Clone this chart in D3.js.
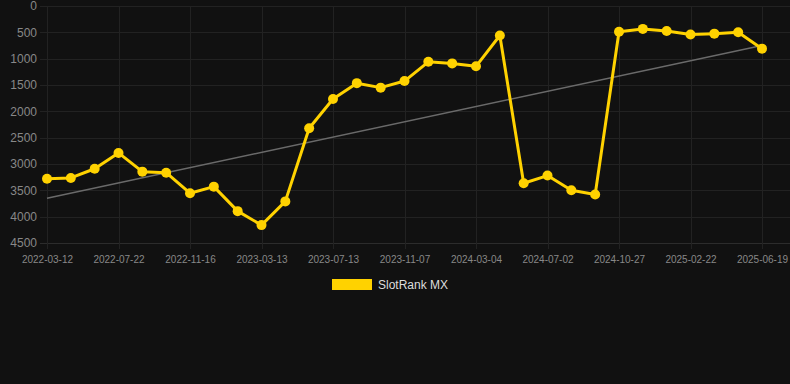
<!DOCTYPE html>
<html>
<head>
<meta charset="utf-8">
<script src="https://cdn.jsdelivr.net/npm/d3@7"></script>
<style>
  body { margin: 0; background: #111111; }
  svg { display: block; font-family: "Liberation Sans", Arial, sans-serif; }
</style>
</head>
<body>
<div id="chart"></div>
<script>
// chart data
var rankValues = [3280, 3265, 3090, 2790, 3145, 3165, 3555, 3430, 3895, 4160,
  3710, 2320, 1765, 1465, 1550, 1425, 1060, 1090, 1145, 560,
  3365, 3220, 3500, 3580, 490, 435, 475, 540, 525, 500, 810];
var tickLabels = ["2022-03-12", "2022-07-22", "2022-11-16", "2023-03-13", "2023-07-13",
  "2023-11-07", "2024-03-04", "2024-07-02", "2024-10-27", "2025-02-22", "2025-06-19"];
var trendValues = [3650, 750]; // trend line start/end
var yTicks = [0, 500, 1000, 1500, 2000, 2500, 3000, 3500, 4000, 4500];
var seriesName = "SlotRank MX";

var svgWidth = 790;
var svgHeight = 384;

var svg = d3.select("#chart")
  .append("svg")
  .attr("width", svgWidth)
  .attr("height", svgHeight);

svg.append("rect")
  .attr("width", svgWidth)
  .attr("height", svgHeight)
  .attr("fill", "#111111");

var xScale = d3.scaleLinear()
  .domain([0, rankValues.length - 1])
  .range([47, 762]);

// rank axis is reversed: 0 at top
var yScale = d3.scaleLinear()
  .domain([0, 4500])
  .range([6, 243]);

var tickIdx = tickLabels.map((d, i) => i * 3);

// horizontal grid
svg.append("g")
  .selectAll("line")
  .data(yTicks)
  .enter()
  .append("line")
  .attr("x1", 40)
  .attr("x2", svgWidth)
  .attr("y1", d => Math.round(yScale(d)) + 0.5)
  .attr("y2", d => Math.round(yScale(d)) + 0.5)
  .attr("stroke", d => d === 4500 ? "#2c2c2c" : "#222222")
  .attr("stroke-width", 1);

// vertical grid
svg.append("g")
  .selectAll("line")
  .data(tickIdx)
  .enter()
  .append("line")
  .attr("x1", d => Math.round(xScale(d)) + 0.5)
  .attr("x2", d => Math.round(xScale(d)) + 0.5)
  .attr("y1", yScale(0))
  .attr("y2", yScale(4500) + 6)
  .attr("stroke", "#222222")
  .attr("stroke-width", 1);

// y axis labels
var leftAxis = d3.axisLeft(yScale)
  .tickValues(yTicks)
  .tickFormat(d3.format("d"))
  .tickSize(0)
  .tickPadding(0);

var yAxis = svg.append("g")
  .attr("transform", "translate(37,0)")
  .call(leftAxis);
yAxis.select(".domain").remove();
yAxis.selectAll("text")
  .attr("fill", "#888888")
  .attr("font-size", "12px")
  .attr("font-family", "Liberation Sans, Arial, sans-serif");

// x axis labels
var bottomAxis = d3.axisBottom(xScale)
  .tickValues(tickIdx)
  .tickFormat((d, i) => tickLabels[i])
  .tickSize(0)
  .tickPadding(0);

var xAxis = svg.append("g")
  .attr("transform", "translate(0,256)")
  .call(bottomAxis);
xAxis.select(".domain").remove();
xAxis.selectAll("text")
  .attr("fill", "#888888")
  .attr("font-size", "10px")
  .attr("font-family", "Liberation Sans, Arial, sans-serif");

// trend line
svg.append("line")
  .attr("x1", xScale(0))
  .attr("y1", yScale(trendValues[0]))
  .attr("x2", xScale(rankValues.length - 1))
  .attr("y2", yScale(trendValues[1]))
  .attr("stroke", "#6a6a6a")
  .attr("stroke-width", 1.5);

// series line
var line = d3.line()
  .x((d, i) => xScale(i))
  .y(d => yScale(d));

svg.append("path")
  .datum(rankValues)
  .attr("d", line)
  .attr("fill", "none")
  .attr("stroke", "#ffd200")
  .attr("stroke-width", 3)
  .attr("stroke-linejoin", "round");

svg.append("g")
  .selectAll("circle")
  .data(rankValues)
  .enter()
  .append("circle")
  .attr("cx", (d, i) => xScale(i))
  .attr("cy", d => yScale(d))
  .attr("r", 5)
  .attr("fill", "#ffd200");

// legend
svg.append("rect")
  .attr("x", 332)
  .attr("y", 279)
  .attr("width", 40)
  .attr("height", 11)
  .attr("fill", "#ffd200");

svg.append("text")
  .attr("x", 378)
  .attr("y", 289)
  .attr("fill", "#dddddd")
  .attr("font-size", "12px")
  .text(seriesName);
</script>
</body>
</html>
